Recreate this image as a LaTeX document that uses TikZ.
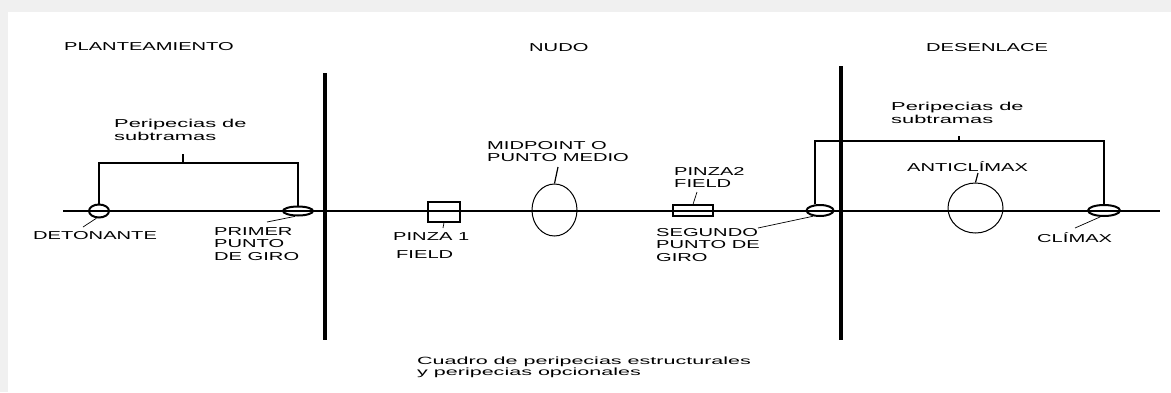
\documentclass[tikz,border=0pt]{standalone}
\usepackage{fontspec}
\usetikzlibrary{shapes.geometric}
\newfontfamily\capsf[FakeStretch=1.75]{Liberation Sans}
\newfontfamily\lowsf[FakeStretch=1.9]{Liberation Sans}
\newfontfamily\capfont[FakeStretch=2.05]{Liberation Sans}
\begin{document}
\begin{tikzpicture}[x=1pt,y=-1pt,
  lab/.style={inner sep=0pt, anchor=north west, align=left, font=\capsf\fontsize{11.5}{12.5}\selectfont},
  llab/.style={lab, font=\lowsf\fontsize{11.5}{13}\selectfont},
  captxt/.style={lab, font=\capfont\fontsize{10.5}{10.5}\selectfont},
  axis/.style={line width=1.3pt},
  sepline/.style={line width=3.5pt},
  ev/.style={draw, ellipse, line width=2pt, inner sep=0pt},
  big/.style={draw, ellipse, line width=1pt, inner sep=0pt},
  boxnode/.style={draw, rectangle, line width=1.2pt, inner sep=0pt},
  leg/.style={line width=1.2pt},
  lead/.style={line width=0.7pt}]
% background / frame
\fill[black!6] (0,0) rectangle (1171,392);
\fill[white] (8,12) rectangle (1171,392);
\useasboundingbox (0,0) rectangle (1171,392);

% headings
\node[lab] (plan) at (64,42) {PLANTEAMIENTO};
\node[lab] (nudo) at (529,43) {NUDO};
\node[lab] (desen) at (926,43) {DESENLACE};

% separators
\coordinate (s1t) at (325,73);  \coordinate (s1b) at (325,340);
\coordinate (s2t) at (841,66);  \coordinate (s2b) at (841,340);
\draw[sepline] (s1t) -- (s1b);
\draw[sepline] (s2t) -- (s2b);

% main axis
\coordinate (ls) at (63,211); \coordinate (le) at (1160,211);
\draw[axis] (ls) -- (le);

% event markers
\node[ev, minimum width=20pt, minimum height=13pt] (det) at (99,211) {};
\node[ev, minimum width=30pt, minimum height=9pt] (pg1) at (298,211) {};
\node[boxnode, minimum width=32pt, minimum height=20pt] (pz1) at (444,212) {};
\node[big, minimum width=45pt, minimum height=52pt] (mid) at (554.5,210) {};
\node[boxnode, minimum width=40pt, minimum height=11pt] (pz2) at (693,210.5) {};
\node[ev, minimum width=27pt, minimum height=11pt] (pg2) at (820,210.5) {};
\node[big, minimum width=55pt, minimum height=50pt] (anti) at (975.5,208) {};
\node[ev, minimum width=32pt, minimum height=11pt] (cli) at (1104,210.5) {};

% left bracket
\coordinate (tkL) at (183,163);
\draw[leg] (det.north) |- (tkL) -| (pg1.north);
\draw[leg] (tkL) -- ++(0,-9);
\node[llab] (perL) at (114,119) {Peripecias de\\subtramas};

% right bracket
\coordinate (tkR) at (959,141);
\draw[leg] (pg2.130) |- (tkR) -| (cli.north);
\draw[leg] (tkR) -- ++(0,-5);
\node[llab] (perR) at (891,102) {Peripecias de\\subtramas};

% labels and leaders
\node[lab] (detl) at (33,231) {DETONANTE};
\coordinate (detc) at (83,227);
\draw[lead] (det.250) -- (detc);

\node[lab] (pg1l) at (214,227) {PRIMER\\PUNTO\\DE GIRO};
\coordinate (pg1c) at (267,222);
\draw[lead] (pg1.240) -- (pg1c);

\node[lab] (pz1l) at (393,232) {PINZA 1};
\node[lab] (pz1f) at (396,250) {FIELD};
\coordinate (pz1c) at (443,228);
\draw[lead] (pz1.south) -- (pz1c);

\node[lab] (midl) at (487,141) {MIDPOINT O\\PUNTO MEDIO};
\coordinate (midc) at (558,167);
\draw[leg] (mid.north) -- (midc);

\node[lab] (pz2l) at (674,167) {PINZA2\\FIELD};
\coordinate (pz2c) at (697,192);
\draw[lead] (pz2.north) -- (pz2c);

\node[lab] (pg2l) at (656,228) {SEGUNDO\\PUNTO DE\\GIRO};
\coordinate (pg2c) at (758,228);
\draw[lead] (pg2.220) -- (pg2c);

\node[lab] (antil) at (907,161) {ANTICL\'IMAX};
\coordinate (antic) at (978,173);
\draw[leg] (anti.north) -- (antic);

\node[lab] (clil) at (1037,232) {CL\'IMAX};
\coordinate (clic) at (1075,228);
\draw[lead] (cli.240) -- (clic);

% caption
\node[captxt] (cap) at (417,357) {Cuadro de peripecias estructurales\\y peripecias opcionales};
\end{tikzpicture}
\end{document}
